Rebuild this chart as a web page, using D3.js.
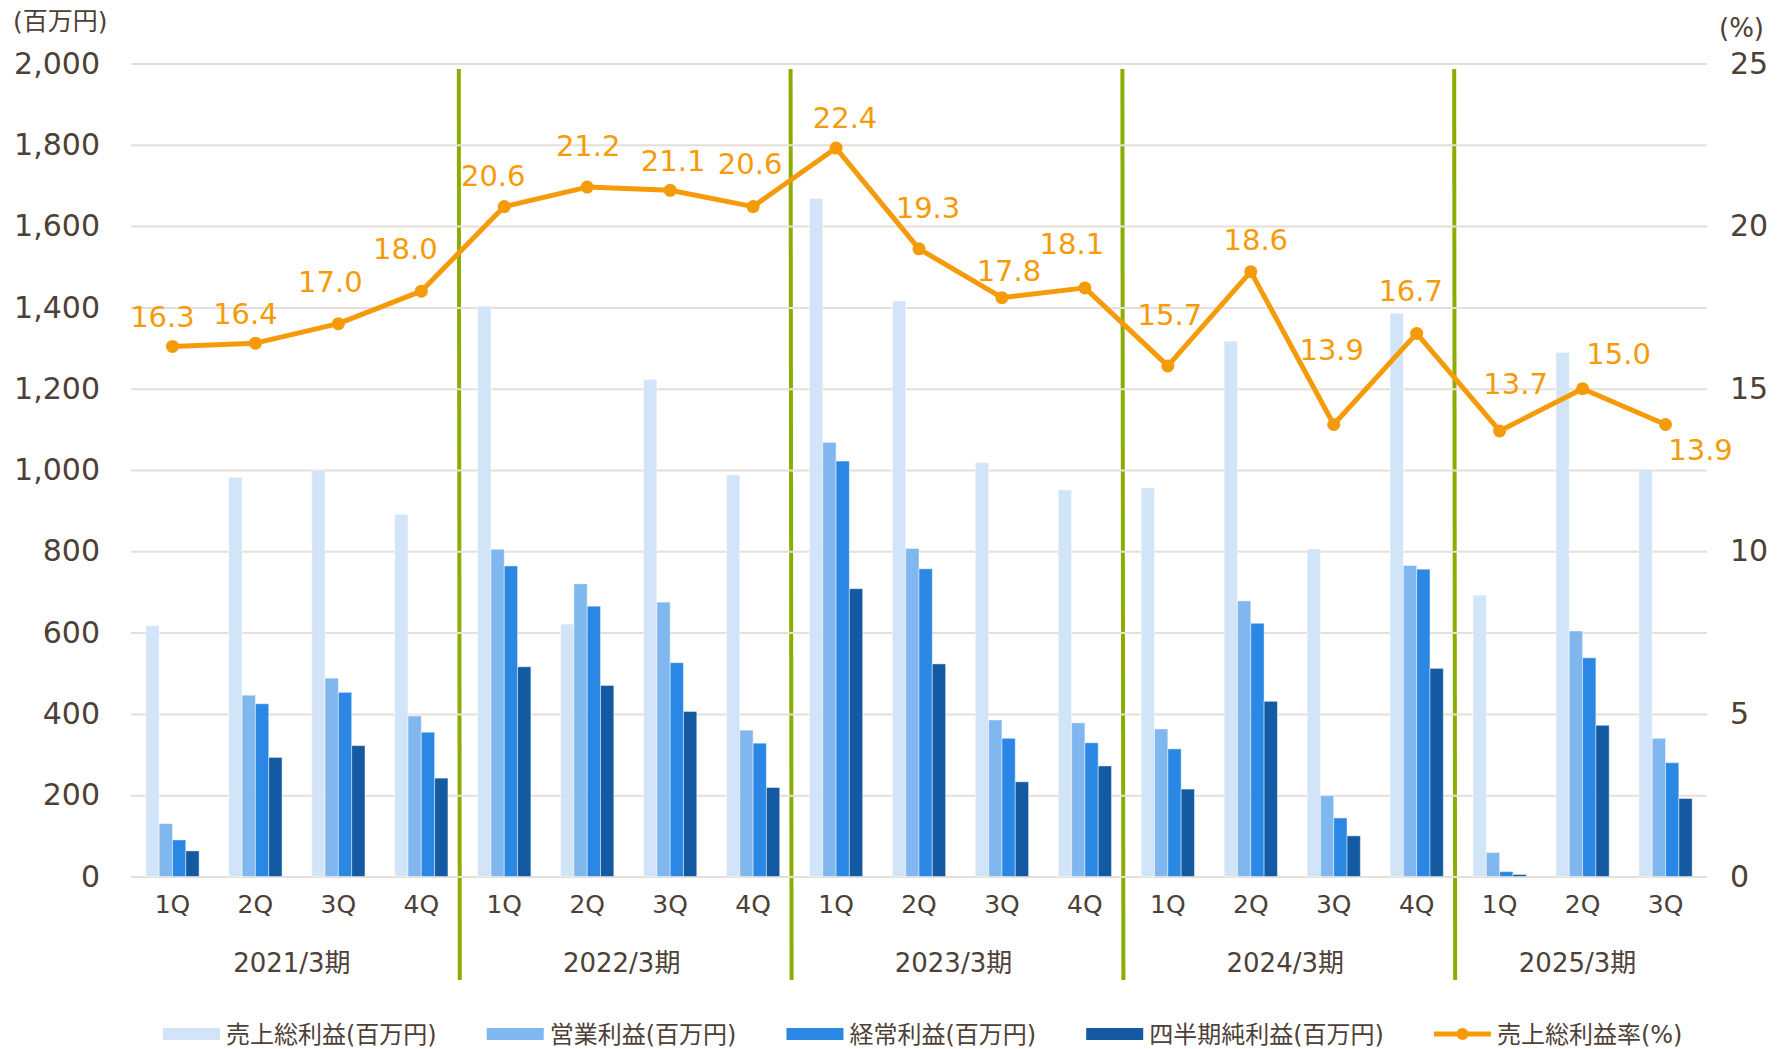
<!DOCTYPE html>
<html lang="ja">
<head>
<meta charset="utf-8">
<title>業績推移</title>
<script src="https://cdn.jsdelivr.net/npm/d3@7"></script>
<style>
  body { margin: 0; background: #fff; }
  svg text { font-family: "DejaVu Sans", "Noto Sans CJK JP", sans-serif; fill: #4d4137; }
  .grid line { stroke: #e6dfd8; stroke-width: 2; }
  .grid path { display: none; }
  .axis path, .axis line { display: none; }
  .label text { fill: #f59b0a; }
</style>
</head>
<body>
<script>
// categories
const fiscalYears = ["2021/3期", "2022/3期", "2023/3期", "2024/3期", "2025/3期"];
const quartersPerYear = [4, 4, 4, 4, 3];
const quarterNames = ["1Q", "2Q", "3Q", "4Q"];

// series (百万円)
const grossProfit    = [617, 982, 1000, 891, 1403, 621, 1223, 988, 1668, 1416, 1018, 951, 956, 1317, 806, 1386, 692, 1289, 1002];
const operatingProfit = [130, 446, 488, 395, 805, 720, 675, 360, 1068, 807, 385, 378, 363, 678, 199, 765, 59, 604, 340];
const ordinaryProfit = [90, 425, 453, 355, 764, 665, 526, 328, 1022, 757, 340, 329, 314, 623, 144, 756, 12, 538, 280];
const netProfit      = [63, 293, 322, 242, 516, 470, 406, 219, 708, 523, 233, 272, 215, 431, 100, 512, 5, 372, 192];
// 売上総利益率 (%)
const grossMargin = [16.3, 16.4, 17.0, 18.0, 20.6, 21.2, 21.1, 20.6, 22.4, 19.3, 17.8, 18.1, 15.7, 18.6, 13.9, 16.7, 13.7, 15.0, 13.9];

// tick labels
const leftTicks = d3.range(0, 2001, 200);
const rightTicks = d3.range(0, 26, 5);

const seriesNames = ["売上総利益(百万円)", "営業利益(百万円)", "経常利益(百万円)", "四半期純利益(百万円)"];
const seriesColors = ["#d2e5f8", "#80b7ef", "#2a88e4", "#135aa2"];
const lineName = "売上総利益率(%)";
const lineColor = "#f59b0a";

// hand placement of the value labels (px from the point), like the original
const labelDx = [-10, -10, -8, -16, -11, 1, 3, -3, 9, 9, 7, -13, 2, 5, -2, -6, 16, 36, 35];
const labelDy = [-30, -30, -42, -43, -31, -42, -30, -43, -30, -41, -27, -44, -51, -32, -75, -43, -47, -35, 25];

// build quarter list
const quarters = [];
quartersPerYear.forEach(n => {
  for (let q = 0; q < n; q++) quarters.push(quarterNames[q]);
});
const idx = d3.range(quarters.length);
const barTable = idx.map(i => [grossProfit[i], operatingProfit[i], ordinaryProfit[i], netProfit[i]]);

const width = 1780, height = 1049;
const plotLeft = 131, plotRight = 1707, plotTop = 63.5, plotBottom = 876.5;

const svg = d3.select("body").append("svg")
  .attr("width", width)
  .attr("height", height);

const x = d3.scaleBand().domain(idx).range([plotLeft, plotRight]);
const groupW = x.bandwidth() * 0.642;
const xs = d3.scaleBand().domain(d3.range(4))
  .range([(x.bandwidth() - groupW) / 2, (x.bandwidth() + groupW) / 2]);
const y = d3.scaleLinear().domain([0, 2000]).range([plotBottom, plotTop]);
const y2 = d3.scaleLinear().domain([0, 25]).range([plotBottom, plotTop]);

// first quarter index of each fiscal year
const yearStart = Array.from(d3.cumsum(quartersPerYear), (c, k) => c - quartersPerYear[k]);

// year separators (drawn first, gridlines cross over them)
svg.append("g").selectAll("line")
  .data(yearStart.slice(1))
  .join("line")
  .attr("x1", d => x(d) - 4)
  .attr("x2", d => x(d) - 3)
  .attr("y1", 69)
  .attr("y2", 980)
  .attr("stroke", "#8aae00")
  .attr("stroke-width", 4);

// gridlines
svg.append("g")
  .attr("class", "grid")
  .attr("transform", `translate(${plotLeft},0)`)
  .call(d3.axisLeft(y).tickValues(leftTicks).tickSize(-(plotRight - plotLeft)).tickFormat(""));

// bars
svg.append("g").selectAll("g")
  .data(barTable)
  .join("g")
  .attr("transform", (d, i) => `translate(${x(i)},0)`)
  .selectAll("rect")
  .data(d => d)
  .join("rect")
  .attr("x", (d, j) => xs(j))
  .attr("width", xs.bandwidth())
  .attr("y", d => y(d))
  .attr("height", d => y(0) - y(d))
  .attr("fill", (d, j) => seriesColors[j])
  .attr("stroke", "rgba(255,255,255,0.45)")
  .attr("stroke-width", 1);

// left axis
svg.append("g")
  .attr("class", "axis")
  .attr("transform", `translate(${plotLeft},0)`)
  .call(d3.axisLeft(y).tickValues(leftTicks).tickFormat(d3.format(",")).tickSize(0).tickPadding(31))
  .selectAll("text").style("font-size", "30px");

// right axis
svg.append("g")
  .attr("class", "axis")
  .attr("transform", `translate(${plotRight},0)`)
  .call(d3.axisRight(y2).tickValues(rightTicks).tickSize(0).tickPadding(23))
  .selectAll("text").style("font-size", "30px");

// bottom axis: quarters
svg.append("g")
  .attr("class", "axis")
  .attr("transform", `translate(0,${plotBottom})`)
  .call(d3.axisBottom(x).tickFormat(i => quarters[i]).tickSize(0).tickPadding(19))
  .selectAll("text").style("font-size", "25px");

// fiscal year labels, centred between separators
const bounds = yearStart.map((s, k) => k === 0 ? plotLeft : x(s) - 4);
bounds.push(plotRight);
svg.append("g").selectAll("text")
  .data(fiscalYears)
  .join("text")
  .attr("x", (d, k) => (bounds[k] + bounds[k + 1]) / 2 - 3)
  .attr("y", 963)
  .attr("dy", "0.36em")
  .attr("text-anchor", "middle")
  .style("font-size", "26px")
  .text(d => d);

// unit labels
svg.append("text").attr("x", 13).attr("y", 21).attr("dy", "0.36em")
  .style("font-size", "25px").text("(百万円)");
svg.append("text").attr("x", 1719).attr("y", 28).attr("dy", "0.36em")
  .style("font-size", "26px").text("(%)");

// margin line
const cx = i => x(i) + x.bandwidth() / 2;
svg.append("path")
  .datum(grossMargin)
  .attr("fill", "none")
  .attr("stroke", lineColor)
  .attr("stroke-width", 5)
  .attr("stroke-linejoin", "round")
  .attr("d", d3.line().x((d, i) => cx(i)).y(d => y2(d)));

svg.append("g").selectAll("circle")
  .data(grossMargin)
  .join("circle")
  .attr("cx", (d, i) => cx(i))
  .attr("cy", d => y2(d))
  .attr("r", 6.5)
  .attr("fill", lineColor);

svg.append("g")
  .attr("class", "label")
  .selectAll("text")
  .data(grossMargin)
  .join("text")
  .attr("x", (d, i) => cx(i) + labelDx[i])
  .attr("y", (d, i) => y2(d) + labelDy[i])
  .attr("dy", "0.36em")
  .attr("text-anchor", "middle")
  .style("font-size", "29px")
  .text(d => d3.format(".1f")(d));

// legend
const legend = svg.append("g").attr("transform", "translate(163,1034)");
const items = seriesNames.map((n, j) => ({ name: n, color: seriesColors[j], line: false }))
  .concat([{ name: lineName, color: lineColor, line: true }]);
let cursor = 0;
items.forEach(it => {
  const g = legend.append("g").attr("transform", `translate(${cursor},0)`);
  if (it.line) {
    g.append("line").attr("x1", 0).attr("x2", 57).attr("y1", 0).attr("y2", 0)
      .attr("stroke", it.color).attr("stroke-width", 5);
    g.append("circle").attr("cx", 28.5).attr("cy", 0).attr("r", 6).attr("fill", it.color);
  } else {
    g.append("rect").attr("x", 0).attr("y", -6).attr("width", 57).attr("height", 12)
      .attr("fill", it.color);
  }
  const t = g.append("text").attr("x", 63).attr("y", 0).attr("dy", "0.36em")
    .style("font-size", "24px").text(it.name);
  cursor += 63 + t.node().getComputedTextLength() + 50;
});
</script>
</body>
</html>
